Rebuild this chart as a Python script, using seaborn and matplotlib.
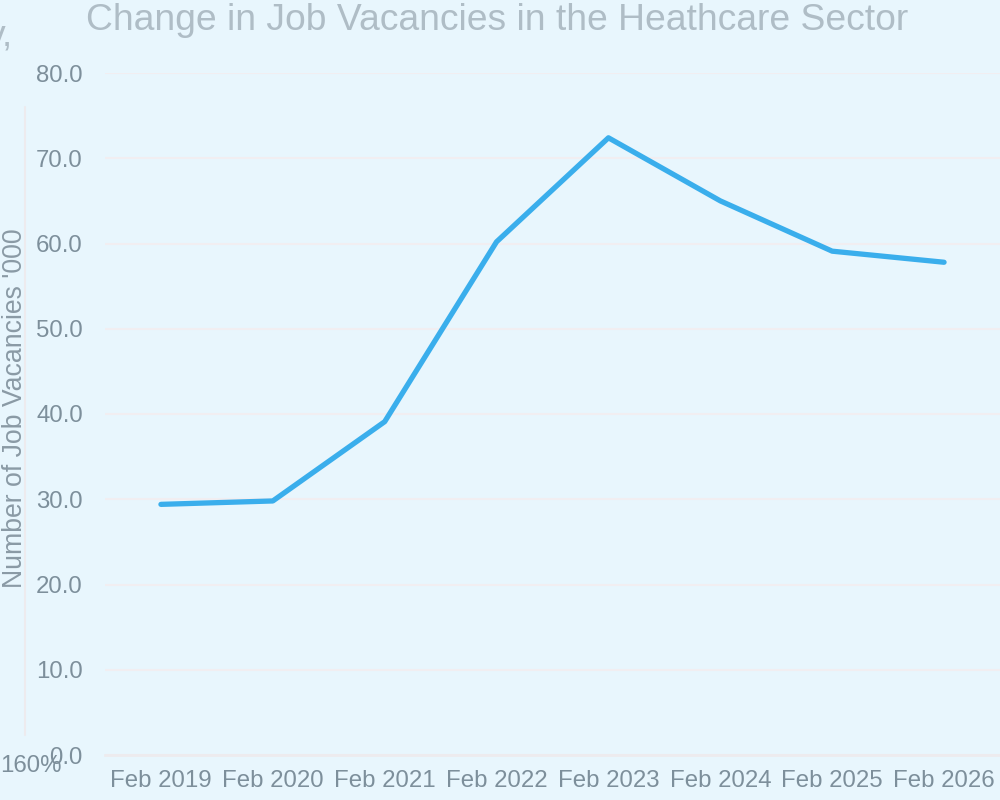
import matplotlib
matplotlib.use("Agg")
import matplotlib.pyplot as plt
import seaborn as sns
import pandas as pd
from matplotlib.lines import Line2D

# ---- data ----
periods = ["Feb 2019", "Feb 2020", "Feb 2021", "Feb 2022",
           "Feb 2023", "Feb 2024", "Feb 2025", "Feb 2026"]
vacancies = [29.4, 29.8, 39.1, 60.2, 72.4, 65.0, 59.1, 57.8]
y_ticks = [0, 10, 20, 30, 40, 50, 60, 70, 80]
title = "Change in Job Vacancies in the Heathcare Sector"
y_label = "Number of Job Vacancies '000"

df = pd.DataFrame({"period": periods, "vacancies": vacancies})

bg = "#E8F6FD"
sns.set_theme(style="white")
plt.rcParams["font.family"] = ["Liberation Sans", "DejaVu Sans"]

fig = plt.figure(figsize=(10, 8), dpi=100, facecolor=bg)
ax = fig.add_axes([0.105, 45 / 800, 0.895, (755 - 73) / 800])
ax.set_facecolor(bg)

sns.lineplot(data=df, x="period", y="vacancies", ax=ax, color="#3AAEEC",
             linewidth=3.8, sort=False)

ax.set_xlim(-0.5, len(periods) - 0.5)
ax.set_ylim(0, 80)
ax.set_yticks(y_ticks)
ax.set_yticklabels([f"{v:.1f}" for v in y_ticks])
ax.set_xticks(range(len(periods)))
ax.set_xticklabels(periods)
ax.set_xticks([i - 0.5 for i in range(len(periods) + 1)], minor=True)

tick_color = "#7D8F9B"
ax.tick_params(axis="x", which="major", length=0, pad=11, labelsize=17.3,
               labelcolor=tick_color)
ax.tick_params(axis="x", which="minor", length=6, width=1.5, color="#EDEBEE")
ax.tick_params(axis="y", length=0, pad=16, labelsize=17.3, labelcolor=tick_color)

ax.grid(axis="y", color="#F1EEF1", linewidth=1.5)
ax.grid(axis="x", visible=False)
ax.set_axisbelow(True)
for s in ["top", "right", "left"]:
    ax.spines[s].set_visible(False)
ax.spines["bottom"].set_color("#EDEBEE")
ax.spines["bottom"].set_linewidth(2)

ax.set_xlabel("")
ax.set_ylabel("")

fig.text(0.497, 1 - 20 / 800, title, ha="center", va="center",
         fontsize=26.8, color="#AFBDC6")
fig.text(0.015, 1 - 408 / 800, y_label, rotation=90, ha="center", va="center",
         fontsize=19.2, color="#8A9AA5")

# clipped secondary axis remnants
fig.add_artist(Line2D([0.025, 0.025], [1 - 735 / 800, 1 - 107 / 800],
                      transform=fig.transFigure, color="#EDEBEE", linewidth=1.5))
fig.text(0.0, 1 - 766 / 800, "160%", ha="left", va="center",
         fontsize=17.3, color=tick_color)
fig.text(-0.013, 1 - 36 / 800, "y,", ha="left", va="center",
         fontsize=26.8, color="#AFBDC6")

fig.savefig("out.png", dpi=100, facecolor=bg)
